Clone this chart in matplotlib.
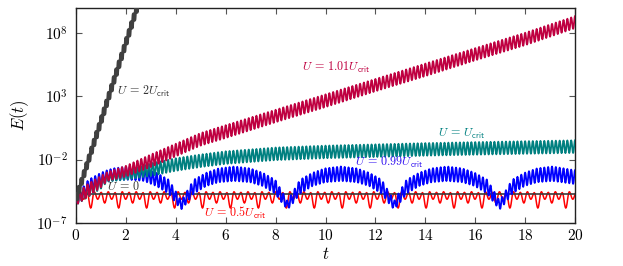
import numpy as np
import matplotlib
matplotlib.use("Agg")
import matplotlib.pyplot as plt
from matplotlib.ticker import FixedLocator, FuncFormatter, NullLocator

plt.rcParams['mathtext.fontset'] = 'cm'
plt.rcParams['font.family'] = ['DejaVu Serif']

# ---------------- data (log10 E) ----------------
E0_log = -4.75                       # U = 0 (constant)

# U = 2 Ucrit : envelope
t_2crit = [0.0, 1.0, 2.0, 2.6]
hi_2crit = [-4.75, 1.45, 7.65, 11.4]
lo_2crit = [-5.5, 0.65, 6.85, 10.6]
freq_2crit = 10.0

# U = 1.01 Ucrit
t_101 = [0, 0.5, 1, 1.25, 2, 3, 4, 5, 6, 8, 10, 12, 14, 16, 18, 20]
hi_101 = [-4.75, -3.9, -3.3, -3.0, -2.5, -1.6, -0.75, 0.1, 0.72, 1.94, 3.16, 4.38, 5.6, 6.82, 8.04, 9.35]
lo_101 = [-5.6, -4.9, -4.2, -3.7, -3.35, -2.6, -1.75, -0.9, -0.3, 0.95, 2.15, 3.4, 4.6, 5.85, 7.05, 8.4]

# U = Ucrit
t_1 = [0, 0.5, 1, 1.25, 2, 3, 4, 5, 6, 8, 10, 12, 14, 16, 18, 20]
hi_1 = [-4.75, -4.0, -3.45, -3.2, -2.9, -2.3, -1.9, -1.6, -1.35, -1.05, -0.9, -0.8, -0.7, -0.62, -0.55, -0.48]
lo_1 = [-5.6, -4.95, -4.3, -3.75, -3.6, -3.3, -2.9, -2.6, -2.35, -2.05, -1.9, -1.8, -1.7, -1.62, -1.55, -1.48]

# U = 0.99 Ucrit (arches)
t_099 = [0, 0.2, 0.5, 1.0, 1.25, 1.5, 2.11, 2.72, 3.22, 3.72, 4.02, 4.22,
         4.42, 4.72, 5.22, 5.72, 6.35, 6.98, 7.48, 7.98, 8.28, 8.48,
         8.68, 8.98, 9.48, 9.98, 10.62, 11.25, 11.75, 12.25, 12.55, 12.75,
         12.95, 13.25, 13.75, 14.25, 14.87, 15.48, 15.98, 16.48, 16.78, 16.98,
         17.18, 17.48, 17.98, 18.48, 19.1, 20.0]
hi_099 = [-4.75, -4.4, -3.6, -3.05, -2.85, -2.7, -2.55, -2.7, -3.05, -3.6, -4.6, -5.3,
          -4.6, -3.6, -3.05, -2.7, -2.55, -2.7, -3.05, -3.6, -4.6, -5.3,
          -4.6, -3.6, -3.05, -2.7, -2.55, -2.7, -3.05, -3.6, -4.6, -5.3,
          -4.6, -3.6, -3.05, -2.7, -2.55, -2.7, -3.05, -3.6, -4.6, -5.3,
          -4.6, -3.6, -3.05, -2.7, -2.55, -2.85]
lo_099 = [-5.5, -5.3, -4.6, -4.1, -3.75, -3.65, -3.6, -3.7, -4.1, -4.7, -5.5, -5.95,
          -5.5, -4.7, -4.1, -3.8, -3.7, -3.8, -4.1, -4.7, -5.5, -5.95,
          -5.5, -4.7, -4.1, -3.8, -3.7, -3.8, -4.1, -4.7, -5.5, -5.95,
          -5.5, -4.7, -4.1, -3.8, -3.7, -3.8, -4.1, -4.7, -5.5, -5.95,
          -5.5, -4.7, -4.1, -3.8, -3.7, -3.95]
freq_near_crit = 6.5

# U = 0.5 Ucrit (quasi-periodic around E0)
red_peak_cycle = [-4.55, -4.62, -4.55, -4.6]
red_trough_cycle = [-5.85, -5.15, -5.45, -5.15]
red_half_period = 0.14
red_phase = 0.03


# ---------------- helpers ----------------
def smooth_through(tx, yx, sub=6):
    """Cosine-eased path through successive extrema (tx, yx)."""
    tx = np.asarray(tx, float)
    yx = np.asarray(yx, float)
    s = np.linspace(0, 1, sub, endpoint=False)
    w = (1 - np.cos(np.pi * s)) / 2
    T, Y = [], []
    for i in range(len(tx) - 1):
        T.append(tx[i] + (tx[i + 1] - tx[i]) * s)
        Y.append(yx[i] + (yx[i + 1] - yx[i]) * w)
    T.append([tx[-1]])
    Y.append([yx[-1]])
    return np.concatenate(T), np.concatenate(Y)


def zigzag(t_env, hi_env, lo_env, freq, t_end=20.0):
    n = int(t_end * freq * 2)
    tk = np.arange(n + 1) / (2 * freq)
    hi = np.interp(tk, t_env, hi_env)
    lo = np.interp(tk, t_env, lo_env)
    y = np.where(np.arange(n + 1) % 2 == 0, hi, lo)
    T, Y = smooth_through(tk, y)
    return T, 10 ** Y


def red_curve(t_end=20.0):
    ts = [0.0]
    ys = [E0_log]
    j = 0
    t = red_phase
    while t < t_end:
        ts.append(t)
        ys.append(red_trough_cycle[(j - 2) % 4])
        tp = t + red_half_period
        ts.append(tp)
        ys.append(red_peak_cycle[j % 4])
        t = tp + red_half_period
        j += 1
    T, Y = smooth_through(ts, ys)
    return T, 10 ** Y


# ---------------- figure ----------------
fig = plt.figure(figsize=(6.23, 2.66), dpi=100)
ax = fig.add_axes([0.122, 0.163, 0.801, 0.807])

tr, yr = red_curve()
ax.plot(tr, yr, color='#ff0000', lw=1.1, zorder=2)
ax.plot([0, 20], [10 ** E0_log, 10 ** E0_log], color='#3a3a3a', lw=1.2, zorder=3)
tb, yb = zigzag(t_099, hi_099, lo_099, freq_near_crit)
ax.plot(tb, yb, color='#0000ff', lw=1.3, zorder=4)
tt, yt = zigzag(t_1, hi_1, lo_1, freq_near_crit)
ax.plot(tt, yt, color='#008080', lw=1.3, zorder=5)
tc, yc = zigzag(t_101, hi_101, lo_101, freq_near_crit)
ax.plot(tc, yc, color='#bf0040', lw=1.3, zorder=6)
tk, yk = zigzag(t_2crit, hi_2crit, lo_2crit, freq_2crit, t_end=2.6)
ax.plot(tk, yk, color='#404040', lw=2.2, zorder=7)

ax.set_yscale('log')
ax.set_xlim(0, 20)
ax.set_ylim(1e-7, 1e10)

ax.xaxis.set_major_locator(FixedLocator(list(range(0, 21, 2))))
ax.xaxis.set_major_formatter(FuncFormatter(lambda v, p: r'$%d$' % v))
ax.yaxis.set_major_locator(FixedLocator([1e-7, 1e-2, 1e3, 1e8]))
ax.yaxis.set_major_formatter(FuncFormatter(lambda v, p: r'$10^{%d}$' % round(np.log10(v))))
ax.yaxis.set_minor_locator(NullLocator())
ax.xaxis.set_minor_locator(NullLocator())
ax.tick_params(direction='in', top=True, right=True, length=4, width=0.8,
               color='#555555', labelsize=11)
ax.tick_params(axis='y', pad=6)
ax.tick_params(axis='x', pad=4)
for s in ax.spines.values():
    s.set_linewidth(1.0)
    s.set_color('#222222')

ax.set_xlabel(r'$t$', fontsize=12, labelpad=2)
ax.set_ylabel(r'$E(t)$', fontsize=12, labelpad=4)

fs = 8.7
ax.text(1.64, 10 ** 3.37, r'$U\,=\,2U_{\mathsf{crit}}$', color='#333333', fontsize=fs, va='center', ha='left', zorder=10)
ax.text(9.06, 10 ** 5.28, r'$U\,=\,1.01U_{\mathsf{crit}}$', color='#bf0040', fontsize=fs, va='center', ha='left', zorder=10)
ax.text(14.5, 10 ** 0.04, r'$U\,=\,U_{\mathsf{crit}}$', color='#008080', fontsize=fs, va='center', ha='left', zorder=10)
ax.text(11.18, 10 ** -2.26, r'$U\,=\,0.99U_{\mathsf{crit}}$', color='#3010f0', fontsize=fs, va='center', ha='left', zorder=10)
ax.text(1.24, 10 ** -4.15, r'$U\,=\,0$', color='#333333', fontsize=fs, va='center', ha='left', zorder=10)
ax.text(5.13, 10 ** -6.23, r'$U\,=\,0.5U_{\mathsf{crit}}$', color='#ff0000', fontsize=fs, va='center', ha='left', zorder=10)

fig.savefig('out.png', dpi=100)
